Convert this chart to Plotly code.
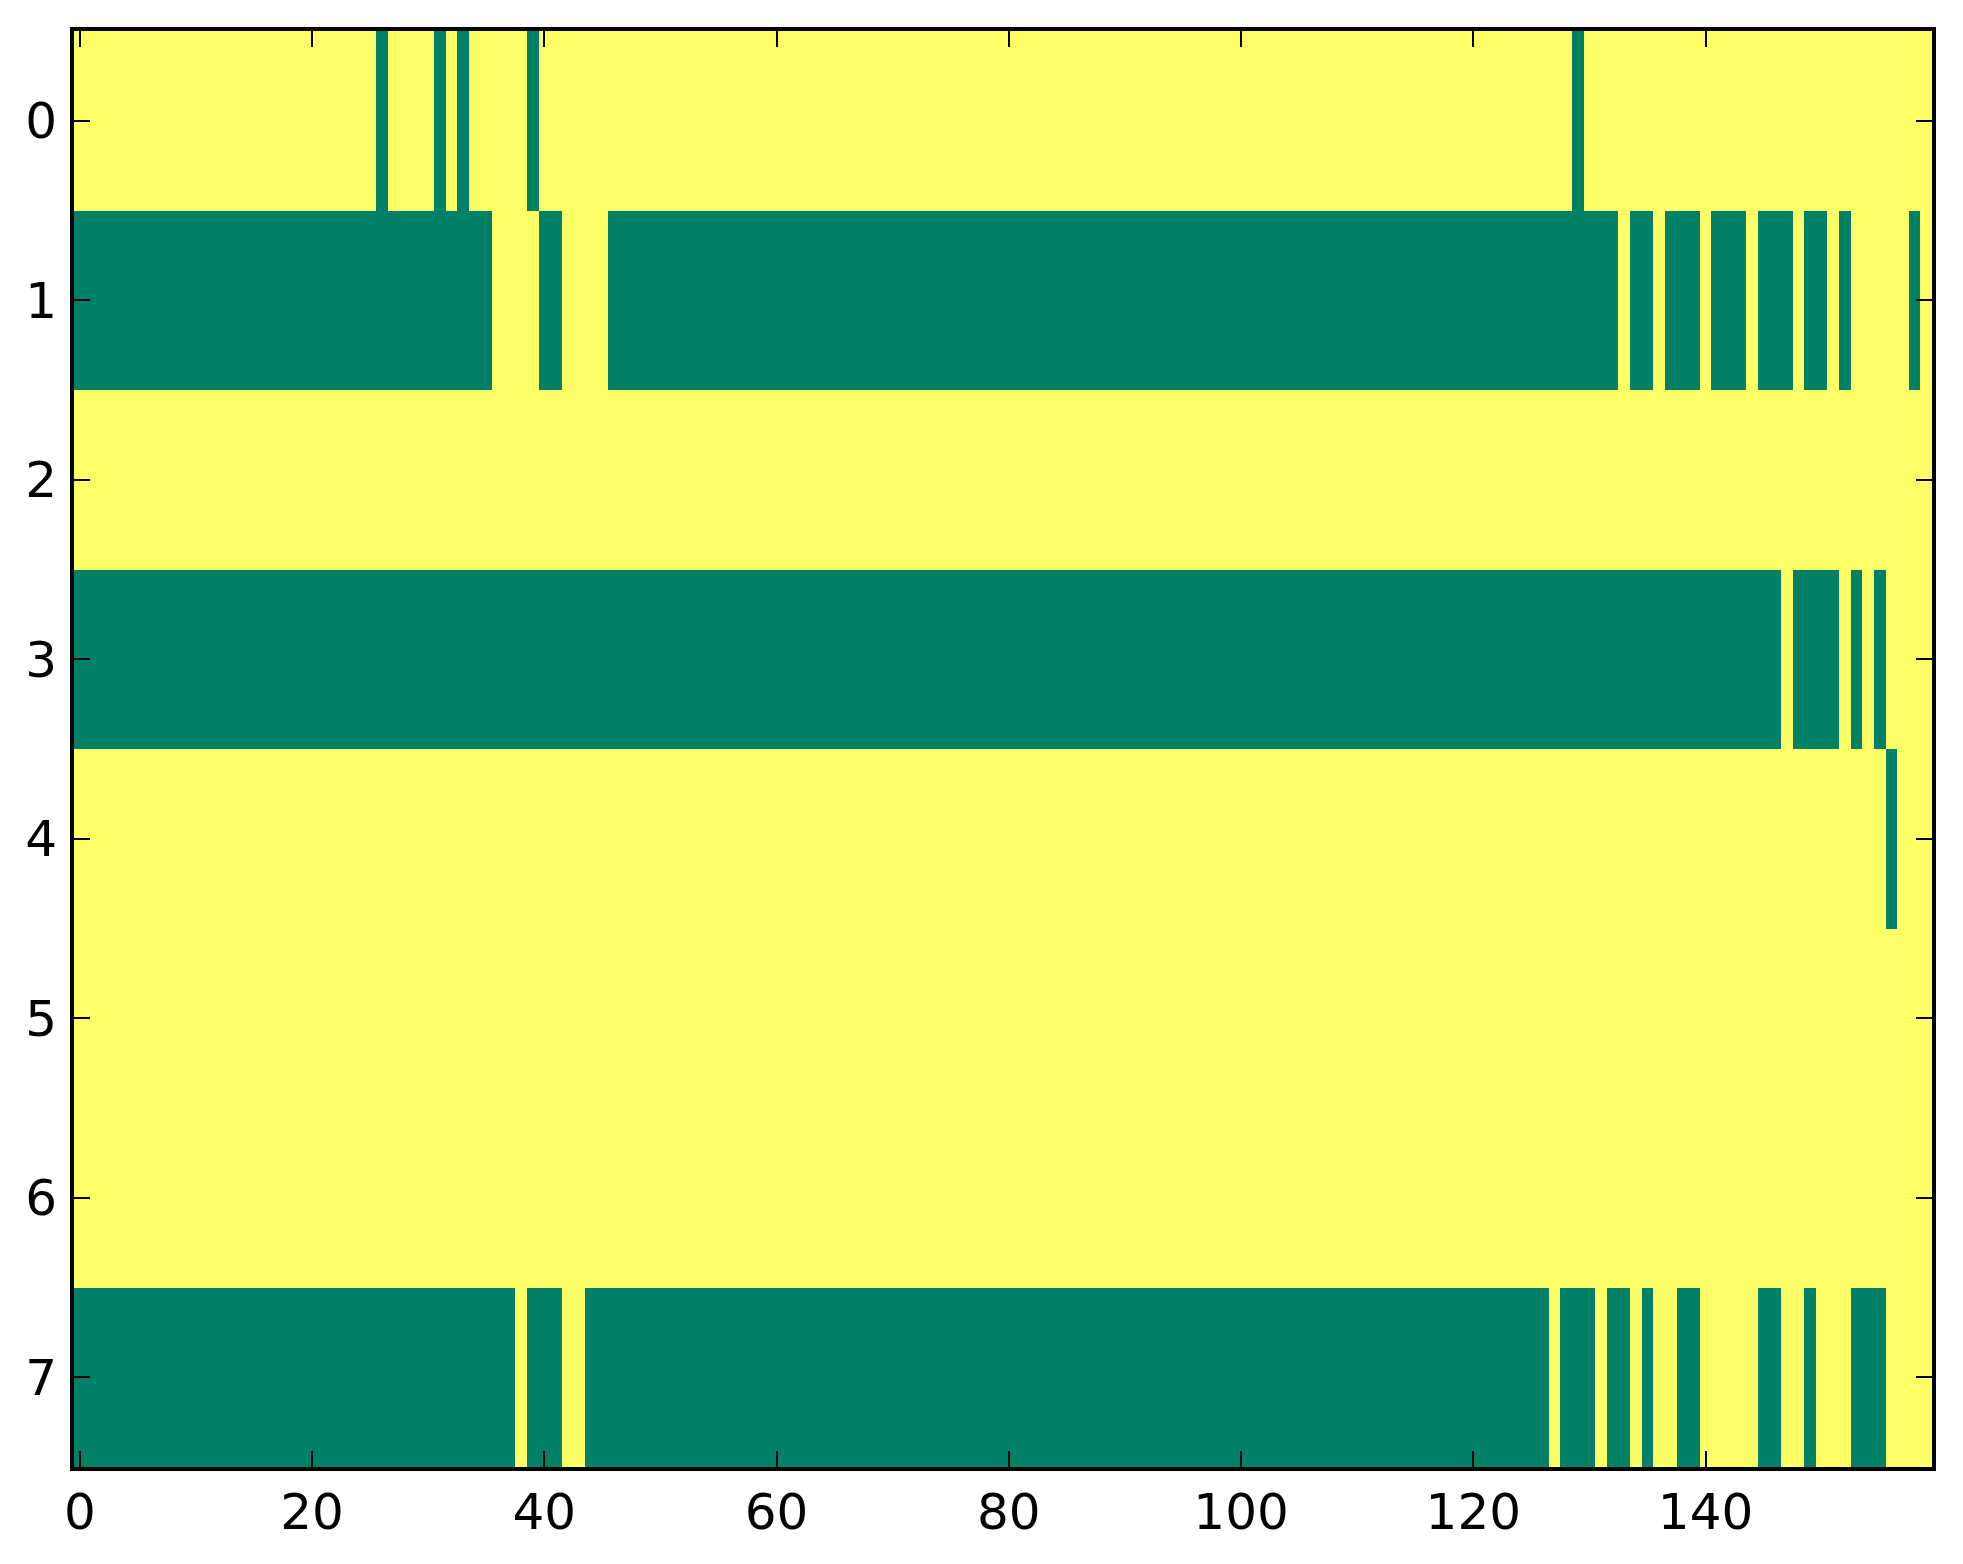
import numpy as np
import plotly.graph_objects as go

# size of the matrix
n_rows = 8
n_cols = 160

# green cells (value 0) per row, as inclusive column spans
row0_green = [(26, 26), (31, 31), (33, 33), (39, 39), (129, 129)]
row1_green = [(0, 35), (40, 41), (46, 132), (134, 135), (137, 139), (141, 143),
              (145, 147), (149, 150), (152, 152), (158, 158)]
row2_green = []
row3_green = [(0, 146), (148, 151), (153, 153), (155, 155)]
row4_green = [(156, 156)]
row5_green = []
row6_green = []
row7_green = [(0, 37), (39, 41), (44, 126), (128, 130), (132, 133), (135, 135),
              (138, 139), (145, 146), (149, 149), (153, 155)]

row_spans = [row0_green, row1_green, row2_green, row3_green,
             row4_green, row5_green, row6_green, row7_green]

x_ticks = [0, 20, 40, 60, 80, 100, 120, 140]
y_ticks = [0, 1, 2, 3, 4, 5, 6, 7]

# build the matrix: 1 = yellow, 0 = green
z = np.ones((n_rows, n_cols))
for r, spans in enumerate(row_spans):
    for a, b in spans:
        z[r, a:b + 1] = 0

# matplotlib "summer" ends
summer = [[0, '#008066'], [1, '#ffff66']]

fig = go.Figure(
    go.Heatmap(
        z=z,
        x=np.arange(n_cols),
        y=np.arange(n_rows),
        colorscale=summer,
        zmin=0,
        zmax=1,
        showscale=False,
        hoverinfo='skip'
    )
)

axis_style = dict(
    showline=True,
    linecolor='black',
    linewidth=4,
    mirror='ticks',
    ticks='inside',
    ticklen=16,
    tickwidth=2,
    tickcolor='black',
    showgrid=False,
    zeroline=False,
    tickfont=dict(family='DejaVu Sans', size=50, color='black'),
)

fig.update_xaxes(range=[-0.5, n_cols - 0.5], tickvals=x_ticks,
                 ticklabelstandoff=-2, **axis_style)
fig.update_yaxes(range=[n_rows - 0.5, -0.5], tickvals=y_ticks,
                 ticklabelstandoff=3, **axis_style)

fig.update_layout(
    width=1963,
    height=1564,
    margin=dict(l=66, r=39, t=23, b=105),
    paper_bgcolor='white',
    plot_bgcolor='white',
)

fig.write_html("out.html")
